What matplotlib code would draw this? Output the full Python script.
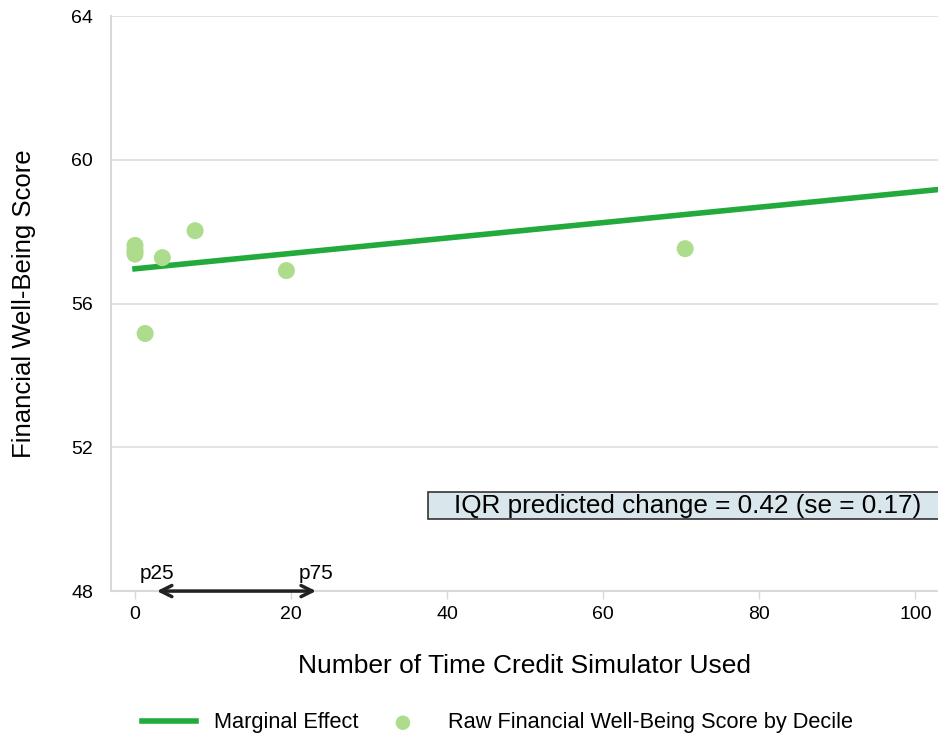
import numpy as np
import matplotlib.pyplot as plt
from matplotlib.patches import Rectangle

plt.rcParams["font.family"] = ["Liberation Sans", "DejaVu Sans"]

# raw decile means
decile_x = [0.0, 0.0, 0.0, 1.3, 3.5, 7.7, 19.4, 70.5]
decile_y = [57.62, 57.48, 57.38, 55.17, 57.28, 58.03, 56.92, 57.53]

# marginal effect line
me_x = [0.0, 105.0]
me_y = [56.97, 59.22]

p25, p75 = 2.8, 23.2
iqr_text = "IQR predicted change = 0.42 (se = 0.17)"

fig = plt.figure(figsize=(9.38, 7.37), dpi=100)
ax = fig.add_axes([0.1183, 0.198, 0.8817, 0.780])

ax.plot(me_x, me_y, color="#22aa3c", lw=4, zorder=3, label="Marginal Effect")
ax.scatter(decile_x, decile_y, s=150, color="#acdc8c", edgecolors="none", zorder=4,
           label="Raw Financial Well-Being Score by Decile")

ax.set_xlim(-3.08, 102.9)
ax.set_ylim(48, 64)
ax.set_xticks([0, 20, 40, 60, 80, 100])
ax.set_yticks([48, 52, 56, 60, 64])
ax.yaxis.grid(True, color="#e3e3e3", lw=1.5)
ax.set_axisbelow(True)

for s in ["top", "right"]:
    ax.spines[s].set_visible(False)
for s in ["left", "bottom"]:
    ax.spines[s].set_color("#d9d9d9")
    ax.spines[s].set_linewidth(1.5)
ax.tick_params(axis="x", colors="#d9d9d9", length=6, width=1, labelsize=14, labelcolor="black", pad=5)
ax.tick_params(axis="y", length=0, labelsize=14, labelcolor="black", pad=13)

ax.set_xlabel("Number of Time Credit Simulator Used", fontsize=19, labelpad=22)
ax.set_ylabel("Financial Well-Being Score", fontsize=18.5, labelpad=25)

# IQR arrow
ax.annotate("", xy=(p25, 48), xytext=(p75, 48),
            arrowprops=dict(arrowstyle="<->", color="#222222", lw=2.5, mutation_scale=20,
                            shrinkA=0, shrinkB=0),
            annotation_clip=False, zorder=5)
ax.text(p25, 48.22, "p25", ha="center", va="bottom", fontsize=15)
ax.text(p75, 48.22, "p75", ha="center", va="bottom", fontsize=15)

# IQR box (runs off the right edge like the original)
ax.add_patch(Rectangle((37.6, 50.0), 80, 0.75, fc="#d9e6ec", ec="#333333", lw=1.2, zorder=5))
ax.text(70.8, 50.37, iqr_text, ha="center", va="center", fontsize=18.8, zorder=6)

ax.legend(loc="upper center", bbox_to_anchor=(0.467, -0.177), ncol=2, frameon=False,
          fontsize=15.7, handlelength=2.5, handletextpad=0.8, columnspacing=0.8,
          markerscale=0.85)

fig.savefig("out.png", dpi=100)
